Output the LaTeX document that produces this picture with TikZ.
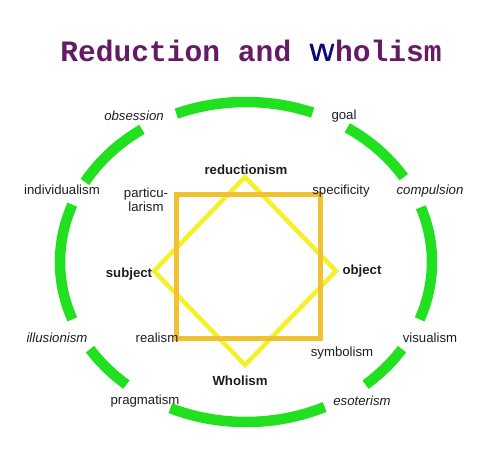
\documentclass[tikz,border=0pt]{standalone}
\usepackage{fontspec}
\setmainfont{Liberation Sans}
\newfontfamily\titlefont{Liberation Mono}
\usetikzlibrary{positioning}
\definecolor{ink}{HTML}{1E1E1E}
\definecolor{plum}{HTML}{651A66}
\definecolor{navy}{HTML}{0A0A7A}
\definecolor{ringgreen}{HTML}{20E020}
\definecolor{gold}{HTML}{F0C232}
\definecolor{lemon}{HTML}{F6F02A}
\tikzset{
  ring/.style={draw=ringgreen,line width=10.5pt,line cap=butt},
  sq/.style={draw=gold,line width=5pt,line join=miter},
  dm/.style={draw=lemon,line width=4.5pt,line join=miter},
  lab/.style={align=center,font=\fontsize{13.2}{13.5}\selectfont,text=ink,inner sep=1pt},
  labb/.style={lab,font=\fontsize{13.2}{13.5}\selectfont\bfseries},
  labi/.style={lab,font=\fontsize{13.2}{13.5}\selectfont\itshape},
}

\begin{document}
\begin{tikzpicture}[x=1pt,y=-1pt]
  \useasboundingbox (0,0) rectangle (500,450);
  \node[inner sep=0pt] (title) at (251,51) {\titlefont\bfseries\fontsize{29.6}{30}\selectfont\color{plum}Reduction and {\sffamily\color{navy}\fontsize{25}{26}\selectfont W}holism};
  \coordinate (c) at (246,262);
  \foreach \a/\b in {248/291,303/328,340/381,33/50,65/114,130/147,159/201,210/236}
    \draw[ring] (c) ++(\a:186 and 160) arc[start angle=\a,end angle=\b,x radius=186,y radius=160];
  \draw[dm] (245,177) -- (336,271) -- (245,365) -- (154,271) -- cycle;
  \draw[sq] (176,194) rectangle (320,338);
  % inner labels
  \node[labb] (red) at (246,170) {reductionism};
  \node[labb] (who) at (240,381) {Wholism};
  \node[labb] (subj) at (129,274) {subject};
  \node[labb] (obj) at (362,271) {object};
  \node[lab] (part) at (146,200) {particu-\\larism};
  \node[lab] (spec) at (341,191) {specificity};
  \node[lab] (real) at (157,338) {realism};
  \node[lab] (symb) at (342,353) {symbolism};
  % outer labels
  \node[labi] (obs) at (134,116) {obsession};
  \node[lab] (goal) at (344,116) {goal};
  \node[lab] (indiv) at (62,190) {individualism};
  \node[labi] (comp) at (430,191) {compulsion};
  \node[labi] (illu) at (57,338) {illusionism};
  \node[lab] (vis) at (430,338) {visualism};
  \node[lab] (prag) at (145,401) {pragmatism};
  \node[labi] (eso) at (362,401) {esoterism};
\end{tikzpicture}
\end{document}
